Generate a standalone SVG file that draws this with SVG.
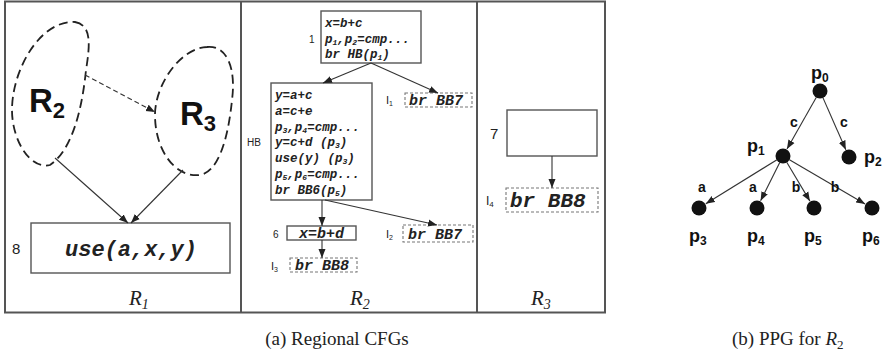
<svg xmlns="http://www.w3.org/2000/svg" width="887" height="355" viewBox="0 0 887 355">
<style>
.frame{fill:none;stroke:#555;stroke-width:2}
.box{fill:#fff;stroke:#555;stroke-width:1.4}
.dbox{fill:#fff;stroke:#777;stroke-width:1.1;stroke-dasharray:3,2}
.blob{fill:none;stroke:#222;stroke-width:1.8;stroke-dasharray:9,5}
.code{font-family:"Liberation Mono",monospace;font-weight:bold;font-style:italic;fill:#222}
.num{font-family:"Liberation Sans",Arial,sans-serif;fill:#222}
.big{font-family:"Liberation Sans",Arial,sans-serif;font-weight:bold;fill:#111}
.ser{font-family:"Liberation Serif","Times New Roman",serif;fill:#222}
.edge{fill:none;stroke:#333;stroke-width:1.1}
.dot{fill:#111}
</style>
<defs>
<marker id="ah" markerUnits="userSpaceOnUse" markerWidth="10" markerHeight="8" refX="9" refY="4" orient="auto">
<path d="M0,0.5 L9,4 L0,7.5 Z" fill="#222"/>
</marker>
</defs>
<g id="frame">
<rect class="frame" x="5" y="1.5" width="600" height="311"/>
<line class="frame" x1="241" y1="1.5" x2="241" y2="312.5"/>
<line class="frame" x1="477" y1="1.5" x2="477" y2="312.5"/>
</g>
<g id="R1">
<g id="R2blob">
<path class="blob" d="M75 22 C92 25,90 45,86 70 C82 110,72 150,50 165 C30 170,12 140,12 110 C12 70,40 20,75 22 Z"/>
<text class="big" x="29" y="112" font-size="33">R<tspan font-size="22" dy="6">2</tspan></text>
</g>
<g id="R3blob">
<path class="blob" d="M207 47 C228 45,236 70,232 100 C228 140,218 172,200 175 C175 178,155 150,155 115 C155 85,180 48,207 47 Z"/>
<text class="big" x="180" y="125" font-size="33">R<tspan font-size="22" dy="6">3</tspan></text>
</g>
<g id="B8">
<rect class="box" x="31" y="223" width="199" height="50"/>
<text class="num" x="12" y="254" font-size="15">8</text>
<text class="code" x="131" y="256" font-size="22" text-anchor="middle">use(a,x,y)</text>
</g>
<text class="ser" x="129" y="305" font-size="21" font-style="italic">R<tspan font-size="14" dy="4">1</tspan></text>
</g>
<g id="R2">
<g id="B1">
<rect class="box" x="321" y="11" width="100" height="52"/>
<text class="num" x="309" y="43" font-size="10">1</text>
<text class="code" x="325" y="27" font-size="12.5">x=b+c</text>
<text class="code" x="325" y="43" font-size="12.5">p<tspan font-size="8" dy="2">1</tspan><tspan dy="-2">,p</tspan><tspan font-size="8" dy="2">2</tspan><tspan dy="-2">=cmp...</tspan></text>
<text class="code" x="325" y="58" font-size="12.5">br HB(p<tspan font-size="8" dy="2">1</tspan><tspan dy="-2">)</tspan></text>
</g>
<g id="BI1">
<rect class="dbox" x="405" y="93" width="67" height="14"/>
<text class="num" x="386" y="104" font-size="11">I<tspan font-size="7" dy="2">1</tspan></text>
<text class="code" x="409" y="105" font-size="15">br BB7</text>
</g>
<g id="BHB">
<rect class="box" x="271" y="83" width="101" height="117"/>
<text class="num" x="247" y="146" font-size="10">HB</text>
<text class="code" x="275" y="99" font-size="12.5">y=a+c</text>
<text class="code" x="275" y="115" font-size="12.5">a=c+e</text>
<text class="code" x="275" y="131" font-size="12.5">p<tspan font-size="8" dy="2">3</tspan><tspan dy="-2">,p</tspan><tspan font-size="8" dy="2">4</tspan><tspan dy="-2">=cmp...</tspan></text>
<text class="code" x="275" y="146" font-size="12.5">y=c+d  (p<tspan font-size="8" dy="2">3</tspan><tspan dy="-2">)</tspan></text>
<text class="code" x="275" y="162" font-size="12.5">use(y) (p<tspan font-size="8" dy="2">3</tspan><tspan dy="-2">)</tspan></text>
<text class="code" x="275" y="178" font-size="12.5">p<tspan font-size="8" dy="2">5</tspan><tspan dy="-2">,p</tspan><tspan font-size="8" dy="2">6</tspan><tspan dy="-2">=cmp...</tspan></text>
<text class="code" x="275" y="194" font-size="12.5">br BB6(p<tspan font-size="8" dy="2">5</tspan><tspan dy="-2">)</tspan></text>
</g>
<g id="BI2">
<rect class="dbox" x="403" y="225" width="70" height="17"/>
<text class="num" x="386" y="238" font-size="11">I<tspan font-size="7" dy="2">2</tspan></text>
<text class="code" x="408" y="239" font-size="15">br BB7</text>
</g>
<g id="B6">
<rect class="box" x="287" y="226" width="69" height="14"/>
<text class="num" x="273" y="238" font-size="10">6</text>
<text class="code" x="321.5" y="238" font-size="15" text-anchor="middle">x=b+d</text>
</g>
<g id="BI3">
<rect class="dbox" x="290" y="258" width="67" height="14"/>
<text class="num" x="271" y="270" font-size="11">I<tspan font-size="7" dy="2">3</tspan></text>
<text class="code" x="295" y="270" font-size="15">br BB8</text>
</g>
<text class="ser" x="350" y="305" font-size="21" font-style="italic">R<tspan font-size="14" dy="4">2</tspan></text>
</g>
<g id="R3">
<g id="B7">
<rect class="box" x="507" y="110" width="90" height="46"/>
<text class="num" x="490" y="139" font-size="15">7</text>
</g>
<g id="BI4">
<rect class="dbox" x="506" y="188" width="92" height="24"/>
<text class="num" x="486" y="205" font-size="12">I<tspan font-size="8" dy="2">4</tspan></text>
<text class="code" x="510" y="207" font-size="21">br BB8</text>
</g>
<text class="ser" x="531" y="305" font-size="21" font-style="italic">R<tspan font-size="14" dy="4">3</tspan></text>
</g>
<g id="ppg-nodes">
<g id="p0"><circle class="dot" cx="820" cy="91" r="7.5"/><text class="big" x="811" y="79" font-size="18">p<tspan font-size="12" dy="3">0</tspan></text></g>
<g id="p1"><circle class="dot" cx="783" cy="156" r="7.5"/><text class="big" x="747" y="152" font-size="18">p<tspan font-size="12" dy="3">1</tspan></text></g>
<g id="p2"><circle class="dot" cx="849" cy="157" r="7.5"/><text class="big" x="864" y="163" font-size="18">p<tspan font-size="12" dy="3">2</tspan></text></g>
<g id="p3"><circle class="dot" cx="699" cy="208" r="7.5"/><text class="big" x="689" y="242" font-size="18">p<tspan font-size="12" dy="3">3</tspan></text></g>
<g id="p4"><circle class="dot" cx="757" cy="208" r="7.5"/><text class="big" x="747" y="242" font-size="18">p<tspan font-size="12" dy="3">4</tspan></text></g>
<g id="p5"><circle class="dot" cx="814" cy="208" r="7.5"/><text class="big" x="804" y="242" font-size="18">p<tspan font-size="12" dy="3">5</tspan></text></g>
<g id="p6"><circle class="dot" cx="872" cy="208" r="7.5"/><text class="big" x="862" y="242" font-size="18">p<tspan font-size="12" dy="3">6</tspan></text></g>
</g>
<g id="connectors">
<line class="edge" x1="85" y1="75" x2="155" y2="112" stroke-dasharray="5,3" marker-end="url(#ah)"/>
<line class="edge" x1="55" y1="158" x2="128" y2="223" marker-end="url(#ah)"/>
<line class="edge" x1="183" y1="170" x2="131" y2="223" marker-end="url(#ah)"/>
<line class="edge" x1="371" y1="63" x2="323" y2="83" marker-end="url(#ah)"/>
<line class="edge" x1="371" y1="63" x2="438" y2="93" marker-end="url(#ah)"/>
<line class="edge" x1="322" y1="200" x2="322" y2="226" marker-end="url(#ah)"/>
<line class="edge" x1="325" y1="200" x2="437" y2="225" marker-end="url(#ah)"/>
<line class="edge" x1="322" y1="240" x2="322" y2="258" marker-end="url(#ah)"/>
<line class="edge" x1="552" y1="156" x2="552" y2="188" marker-end="url(#ah)"/>
<line class="edge" x1="816.5" y1="97.1" x2="787" y2="149" marker-end="url(#ah)"/>
<line class="edge" x1="822.8" y1="97.4" x2="845.8" y2="149.7" marker-end="url(#ah)"/>
<line class="edge" x1="777" y1="159.7" x2="705.8" y2="203.8" marker-end="url(#ah)"/>
<line class="edge" x1="779.9" y1="162.3" x2="760.6" y2="200.8" marker-end="url(#ah)"/>
<line class="edge" x1="786.6" y1="162" x2="809.9" y2="201.1" marker-end="url(#ah)"/>
<line class="edge" x1="789" y1="159.5" x2="865.1" y2="204" marker-end="url(#ah)"/>
<text class="big" x="794" y="127" font-size="14" text-anchor="middle">c</text>
<text class="big" x="844" y="127" font-size="14" text-anchor="middle">c</text>
<text class="big" x="702" y="192" font-size="14" text-anchor="middle">a</text>
<text class="big" x="753" y="192" font-size="14" text-anchor="middle">a</text>
<text class="big" x="796" y="192" font-size="14" text-anchor="middle">b</text>
<text class="big" x="835" y="192" font-size="14" text-anchor="middle">b</text>
</g>
<g id="captions">
<text class="ser" x="337" y="345" font-size="19" text-anchor="middle">(a) Regional CFGs</text>
<text class="ser" x="732" y="345" font-size="19">(b) PPG for <tspan font-style="italic">R</tspan><tspan font-size="13" dy="4">2</tspan></text>
</g>
</svg>
